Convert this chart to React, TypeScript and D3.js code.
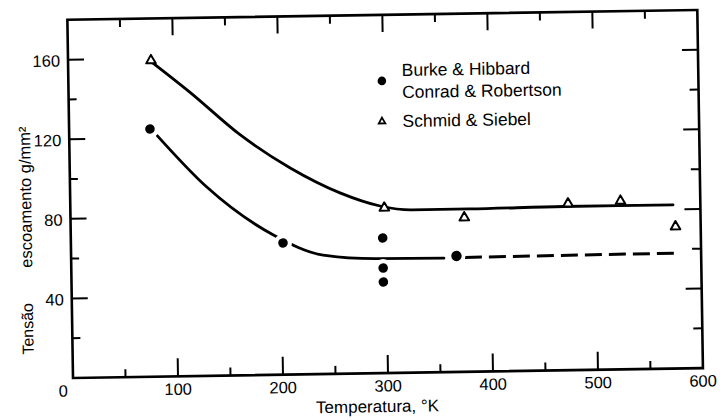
import React from 'react';
import * as d3 from 'd3';

const W = 726;
const H = 420;

// Burke & Hibbard / Conrad & Robertson (filled circles)
const circleTemp = [77, 202, 297, 297, 297, 367];
const circleStress = [124.5, 66.2, 67.9, 52.8, 45.8, 58.3];

// Schmid & Siebel (open triangles)
const triTemp = [79, 299, 375, 474, 524, 576];
const triStress = [159.2, 83.3, 77.8, 84, 84.9, 71.6];

// fitted curves
const upperTemp = [80, 116, 163, 210, 257, 295, 325, 380, 470, 574];
const upperStress = [158, 142.5, 120.8, 103.8, 90.9, 84, 81.8, 81.8, 82.3, 82.3];
const lowerTemp = [84, 130, 193, 240, 290, 355];
const lowerStress = [121, 95, 70.3, 59.8, 57.6, 57.3];
const dashTemp = [375, 578];
const dashStress = [57.5, 58];

const xTickLabels = [0, 100, 200, 300, 400, 500, 600];
const yTickLabels = [40, 80, 120, 160];
const legendLabels = ['Burke & Hibbard', 'Conrad & Robertson', 'Schmid & Siebel'];

const FONT = '"Liberation Sans", Arial, sans-serif';

export default function App() {
  const x = d3.scaleLinear().domain([0, 600]).range([73, 703]);
  const y = d3.scaleLinear().domain([0, 180]).range([378, 19.8]);

  const line = d3
    .line<[number, number]>()
    .x((d) => x(d[0]))
    .y((d) => y(d[1]))
    .curve(d3.curveMonotoneX);

  const upper = line(upperTemp.map((t, i) => [t, upperStress[i]]));
  const lower = line(lowerTemp.map((t, i) => [t, lowerStress[i]]));
  const dashed = line(dashTemp.map((t, i) => [t, dashStress[i]]));

  const [x0, x1] = x.range();
  const [y0, y1] = y.range();

  const minorX = d3.range(50, 600, 100);
  const majorX = d3.range(100, 600, 100);
  const minorY = d3.range(20, 180, 40);

  const tri = (s: number) => `M0,${-s * 1.05}L${s},${s * 0.7}L${-s},${s * 0.7}Z`;

  return (
    <svg
      width={W}
      height={H}
      style={{ position: 'absolute', left: 0, top: 0, background: '#fff' }}
      fontFamily={FONT}
    >
      <rect width={W} height={H} fill="#fff" />
      <g transform="rotate(-0.9 73 378)">
        {/* frame */}
        <rect x={x0} y={y1} width={x1 - x0} height={y0 - y1} fill="none" stroke="#000" strokeWidth={2.6} />

        {/* bottom & top ticks */}
        {majorX.map((t) => (
          <g key={'mx' + t}>
            <line x1={x(t)} x2={x(t)} y1={y0} y2={y0 - 18} stroke="#000" strokeWidth={2} />
            <line x1={x(t)} x2={x(t)} y1={y1} y2={y1 + 17} stroke="#000" strokeWidth={2} />
          </g>
        ))}
        {minorX.map((t) => (
          <g key={'nx' + t}>
            <line x1={x(t)} x2={x(t)} y1={y0} y2={y0 - 8} stroke="#000" strokeWidth={2} />
            <line x1={x(t)} x2={x(t)} y1={y1} y2={y1 + 8} stroke="#000" strokeWidth={2} />
          </g>
        ))}

        {/* left & right ticks */}
        {yTickLabels.map((v) => (
          <g key={'my' + v}>
            <line x1={x0} x2={x0 + 16} y1={y(v)} y2={y(v)} stroke="#000" strokeWidth={2} />
            <line x1={x1} x2={x1 - 16} y1={y(v)} y2={y(v)} stroke="#000" strokeWidth={2} />
          </g>
        ))}
        {minorY.map((v) => (
          <g key={'ny' + v}>
            <line x1={x0} x2={x0 + 8} y1={y(v)} y2={y(v)} stroke="#000" strokeWidth={2} />
            <line x1={x1} x2={x1 - 9} y1={y(v)} y2={y(v)} stroke="#000" strokeWidth={2} />
          </g>
        ))}

        {/* tick labels */}
        {yTickLabels.map((v) => (
          <text key={'ly' + v} x={65} y={y(v) + 1} dy="0.35em" textAnchor="end" fontSize={16.5}>
            {v}
          </text>
        ))}
        {xTickLabels.map((t) => (
          <text
            key={'lx' + t}
            x={t === 0 ? 63 : x(t)}
            y={396.5}
            textAnchor="middle"
            fontSize={16.5}
          >
            {t}
          </text>
        ))}

        {/* axis titles */}
        <text x={377} y={417} textAnchor="middle" fontSize={17}>
          Temperatura, °K
        </text>
        <text transform="translate(34 354) rotate(-90)" fontSize={16}>
          Tensão
        </text>
        <text transform="translate(34 267) rotate(-90)" fontSize={16.5}>
          escoamento g/mm²
        </text>

        {/* curves */}
        <path d={upper ?? ''} fill="none" stroke="#000" strokeWidth={2.8} strokeLinecap="round" />
        <path d={lower ?? ''} fill="none" stroke="#000" strokeWidth={2.8} strokeLinecap="round" />
        <path d={dashed ?? ''} fill="none" stroke="#000" strokeWidth={3} strokeDasharray="17 7" />

        {/* markers */}
        {circleTemp.map((t, i) => (
          <circle key={'h' + i} cx={x(t)} cy={y(circleStress[i])} r={9} fill="#fff" />
        ))}
        {circleTemp.map((t, i) => (
          <circle key={'c' + i} cx={x(t)} cy={y(circleStress[i])} r={i === 5 ? 5.2 : 4.8} fill="#000" />
        ))}
        {triTemp.map((t, i) => (
          <path
            key={'t' + i}
            d={tri(4.8)}
            transform={`translate(${x(t)},${y(triStress[i])})`}
            fill="#fff"
            stroke="#000"
            strokeWidth={2}
            strokeLinejoin="round"
          />
        ))}

        {/* legend */}
        <circle cx={386.5} cy={85.8} r={4.3} fill="#000" />
        <path d={tri(3.3)} transform="translate(386,126)" fill="#fff" stroke="#000" strokeWidth={1.8} />
        {legendLabels.map((s, i) => (
          <text key={s} x={406.5} y={[81.2, 103.2, 132.2][i]} fontSize={17.5}>
            {s}
          </text>
        ))}
      </g>
    </svg>
  );
}
